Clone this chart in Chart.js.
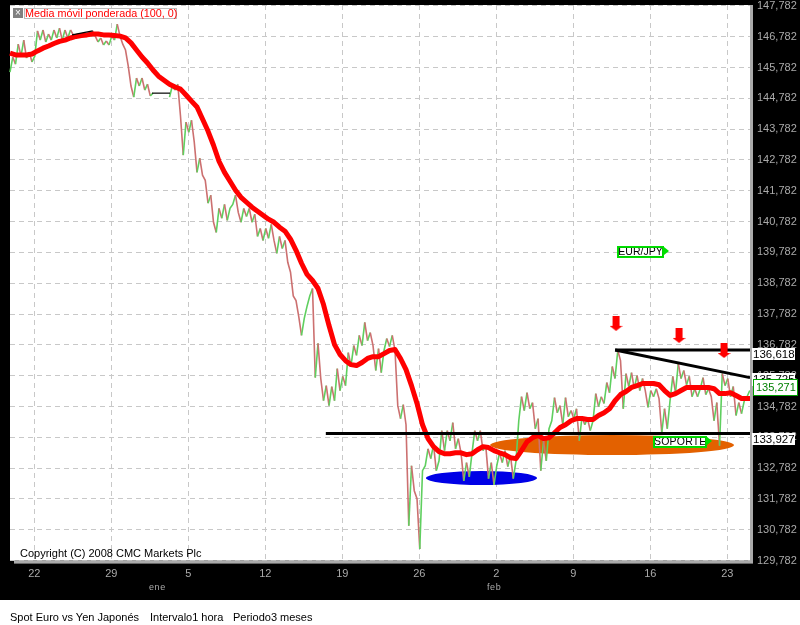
<!DOCTYPE html>
<html>
<head>
<meta charset="utf-8">
<title>Spot Euro vs Yen Japonés</title>
<script src="https://cdn.jsdelivr.net/npm/chart.js@4/dist/chart.umd.js"></script>
<style>
html, body { margin: 0; padding: 0; background: #fff; }
#wrap { position: relative; width: 800px; height: 625px; overflow: hidden; font-family: "Liberation Sans", Arial, sans-serif; }
canvas { position: absolute; left: 0; top: 0; }
.abs { position: absolute; white-space: nowrap; }
.box { position: absolute; background: #fff; color: #000; font-size: 11.5px; line-height: 13px; padding-left: 1px; box-sizing: border-box; }
.tag { position: absolute; background: #fff; color: #000; border: 1px solid #00e000; outline: 1px solid #00d000; outline-offset: -2px; box-sizing: border-box; font-size: 10.5px; line-height: 9px; text-align: center; }
.tag:after { content: ""; position: absolute; top: 0; right: -6px; border-left: 5px solid #00e000; border-top: 4px solid transparent; border-bottom: 4px solid transparent; }
</style>
</head>
<body>
<div id="wrap">
  <canvas id="chart" width="800" height="600"></canvas>

  <div class="abs" style="left:13px;top:8px;width:10px;height:10px;background:#808080;color:#fff;font-size:10px;line-height:10px;text-align:center">×</div>
  <div class="abs" style="left:24px;top:8px;width:153px;height:11px;box-sizing:border-box;border:1px solid #bbb;background:#fff"></div>
  <div class="abs" style="left:25px;top:7px;color:#f00;font-size:10.8px;line-height:13px">Media móvil ponderada (100, 0)</div>
  <div class="abs" style="left:20px;top:546px;color:#000;font-size:11px;line-height:14px">Copyright (C) 2008 CMC Markets Plc</div>

  <div class="tag" style="left:617px;top:246px;width:47px;height:12px">EUR/JPY</div>
  <div class="tag" style="left:653px;top:436px;width:54px;height:12px;letter-spacing:.2px">SOPORTE</div>

  <div class="box" style="left:752px;top:348px;width:43px;height:12px">136,618</div>
  <div class="box" style="left:752px;top:373px;width:43px;height:13px">135,725</div>
  <div class="box" style="left:752px;top:433px;width:43px;height:12px">133,927</div>
  <div class="box" style="left:753px;top:379px;width:45px;height:17px;border:1px solid #00a000;color:#008000;font-size:11px;line-height:15px;padding-left:2px">135,271</div>

  <div class="abs" style="left:149px;top:582px;color:#aaa;font-size:9px;line-height:10px;letter-spacing:.6px">ene</div>
  <div class="abs" style="left:487px;top:582px;color:#aaa;font-size:9px;line-height:10px;letter-spacing:.6px">feb</div>

  <div class="abs" style="left:10px;top:610px;color:#000;font-size:11px;line-height:14px">Spot Euro vs Yen Japonés</div>
  <div class="abs" style="left:150px;top:610px;color:#000;font-size:11px;line-height:14px">Intervalo1 hora</div>
  <div class="abs" style="left:233px;top:610px;color:#000;font-size:11px;line-height:14px">Periodo3 meses</div>
</div>

<script>
// tick labels on the date axis, one per week
const weekTicks = [0, 7, 14, 21, 28, 35, 42, 49, 56, 63];
const weekLabels = ['22', '29', '5', '12', '19', '26', '2', '9', '16', '23'];

const priceTicks = [129.782, 130.782, 131.782, 132.782, 133.782, 134.782, 135.782, 136.782, 137.782,
    138.782, 139.782, 140.782, 141.782, 142.782, 143.782, 144.782, 145.782, 146.782, 147.782];

// spot price, one reading every quarter of a day, null where the market is shut
const priceValues = [
    145.63, 146.12, 145.89, 146.54, 146.15, 146.67, 146.09, 146.28, 145.96, 146.15,
    146.97, 146.67, 147.00, 146.61, 146.87, 146.67, 147.00, 146.74, 147.06, 146.67,
    147.00, 146.74, 147.00, 146.84, null, null, null, null, null, null,
    146.97, 146.80, 146.61, 146.74, 146.51, 146.64, 146.51, 146.80, 146.67, 147.19,
    146.80, 146.54, 146.35, 145.83, 145.18, 144.82, 145.44, 145.18, 145.44, 145.05,
    145.24, 144.86, 144.95, null, null, null, null, null, 144.82, 145.18,
    145.05, 145.24, 144.20, 142.94, 144.01, 143.68, 144.07, 143.36, 142.38, 142.84,
    142.29, 142.12, 141.38, 141.64, 140.76, 140.43, 141.21, 140.89, 141.34, 140.82,
    141.21, 141.34, 141.64, 141.08, 140.76, 141.21, 140.95, 141.21, 140.76, 141.02,
    140.30, 140.56, 140.17, 140.56, 140.24, 140.69, 140.17, 139.75, 140.30, 139.91,
    140.17, 139.46, 139.14, 138.37, 138.22, 137.70, 137.09, 137.64, 138.03, 138.37,
    138.61, 135.72, 136.83, 135.69, 134.97, 135.46, 134.81, 135.43, 134.97, 136.01,
    135.30, 135.76, 135.46, 136.53, 136.11, 136.76, 136.44, 137.09, 136.76, 137.51,
    136.92, 137.18, 136.76, 135.95, 136.66, 135.88, 136.60, 136.99, 136.73, 137.09,
    136.60, 134.81, 134.39, 134.84, 134.19, 130.91, 132.86, 132.05, 131.79, 130.16,
    132.70, 132.86, 133.41, 133.09, 133.54, 132.70, 133.02, 134.00, 133.35, 134.00,
    133.67, 134.26, 133.41, 133.74, 133.28, 132.37, 132.96, 132.50, 133.28, 134.00,
    133.67, 134.00, 133.35, 133.51, 132.44, 132.96, 132.24, 132.86, 133.28, 132.96,
    133.35, 132.83, 133.19, 132.44, 133.02, 134.32, 135.10, 134.65, 135.23, 134.71,
    134.91, 134.06, 134.39, 132.70, 133.67, 133.02, 134.06, 134.32, 135.07, 134.58,
    134.81, 134.19, 135.07, 134.45, 134.65, 134.39, 134.71, 133.67, 134.45, 134.19,
    134.39, 134.00, 134.32, 135.20, 134.78, 135.10, 134.88, 135.56, 135.23, 136.08,
    135.69, 136.60, 136.27, 134.71, 135.85, 135.43, 135.88, 135.36, 135.79, 135.30,
    135.69, 135.30, 134.75, 135.30, 135.10, 135.36, 135.04, 133.93, 134.71, 134.06,
    134.97, 135.76, 135.23, 136.18, 135.69, 135.95, 135.49, 135.76, 135.10, 135.36,
    135.10, 135.36, 135.72, 135.17, 135.36, 135.10, 134.32, 134.91, 133.51, 135.85,
    135.46, 135.69, 135.10, 135.43, 134.49, 134.91, 134.55, 134.97, 135.10, 135.30
];

// weighted moving average (100, 0), one reading every half day
const averageValues = [
    146.25, 146.19, 146.19, 146.19, 146.22, 146.32, 146.41, 146.48, 146.56, 146.63,
    146.67, 146.74, 146.79, 146.82, 146.84, 146.87, 146.87, 146.84, 146.84, 146.82,
    146.80, 146.74, 146.58, 146.35, 146.12, 145.93, 145.70, 145.50, 145.37, 145.24,
    145.15, 145.08, 144.89, 144.69, 144.50, 144.11, 143.72, 143.26, 142.74, 142.38,
    142.09, 141.80, 141.57, 141.41, 141.25, 141.12, 140.99, 140.86, 140.76, 140.60,
    140.47, 140.21, 139.85, 139.43, 139.07, 138.87, 138.61, 138.09, 137.41, 136.79,
    136.47, 136.27, 136.14, 136.11, 136.21, 136.34, 136.40, 136.40, 136.50, 136.60,
    136.63, 136.34, 135.98, 135.46, 134.88, 134.19, 133.74, 133.48, 133.32, 133.25,
    133.25, 133.28, 133.28, 133.22, 133.25, 133.38, 133.48, 133.45, 133.35, 133.28,
    133.22, 133.12, 133.09, 133.35, 133.64, 133.77, 133.84, 133.74, 133.77, 133.93,
    134.10, 134.19, 134.32, 134.39, 134.39, 134.36, 134.36, 134.49, 134.58, 134.71,
    134.97, 135.17, 135.27, 135.40, 135.46, 135.53, 135.53, 135.53, 135.49, 135.30,
    135.14, 135.20, 135.30, 135.40, 135.40, 135.40, 135.40, 135.40, 135.36, 135.20,
    135.20, 135.23, 135.14, 135.04, 135.04, 135.04
];

const firstDay = -2.21;
const lastDay = 65.06;

// the black drawn lines, as [day, price] ends
const resistanceFlat = [[52.8, 136.618], [lastDay, 136.618]];
const resistanceSlope = [[52.8, 136.618], [lastDay, 135.72]];
const supportLine = [[26.5, 133.91], [lastDay, 133.91]];
const closedJan = [[3.43, 146.84], [5.31, 146.97]];
const closedNew = [[10.7, 144.95], [12.34, 144.95]];

const arrowDays = [52.88, 58.61, 62.7];
const arrowPrices = [137.48, 137.09, 136.6];

// shaded zones: centre and half size in days and price
const blueZone = [40.65, 132.46, 5.05, 0.227];
const orangeZone = [52.52, 133.53, 11.09, 0.325];

function toPoints(pairs) {
    return pairs.map(p => ({ x: p[0], y: p[1] }));
}

function makeArrow() {
    const c = document.createElement('canvas');
    c.width = 13;
    c.height = 15;
    const g = c.getContext('2d');
    g.fillStyle = '#f00';
    g.fillRect(3, 0, 7, 10);
    g.beginPath();
    g.moveTo(0, 10);
    g.lineTo(13, 10);
    g.lineTo(6.5, 15);
    g.closePath();
    g.fill();
    return c;
}

function blackLine(pairs, width) {
    return {
        type: 'line',
        data: toPoints(pairs),
        borderColor: '#000',
        borderWidth: width,
        pointRadius: 0,
        order: 2
    };
}

const framePlugin = {
    id: 'frame',
    beforeDraw(chart) {
        const g = chart.ctx;
        const a = chart.chartArea;
        g.save();
        g.fillStyle = '#000';
        g.fillRect(0, 0, chart.width, chart.height);
        g.fillStyle = '#fff';
        g.fillRect(a.left, a.top, a.right - a.left, a.bottom - a.top);
        g.restore();
    },
    beforeDatasetsDraw(chart) {
        const g = chart.ctx;
        const x = chart.scales.x;
        const y = chart.scales.y;
        g.save();
        [[blueZone, '#0000e6'], [orangeZone, '#e36100']].forEach(z => {
            const d = z[0];
            const cx = x.getPixelForValue(d[0]);
            const cy = y.getPixelForValue(d[1]);
            const rx = x.getPixelForValue(d[0] + d[2]) - cx;
            const ry = y.getPixelForValue(d[1] - d[3]) - cy;
            g.fillStyle = z[1];
            g.beginPath();
            g.ellipse(cx, cy, rx, ry, 0, 0, Math.PI * 2);
            g.fill();
        });
        g.restore();
    },
    afterDraw(chart) {
        const g = chart.ctx;
        const a = chart.chartArea;
        g.save();
        g.fillStyle = '#aaa';
        g.fillRect(a.right, a.top, 3, a.bottom - a.top + 3);
        g.fillRect(a.left + 4, a.bottom, a.right - a.left - 4, 3);
        g.restore();
    }
};

new Chart(document.getElementById('chart'), {
    type: 'line',
    data: {
        datasets: [
            {
                data: priceValues.map((v, i) => ({ x: firstDay + i * 0.25, y: v })),
                borderWidth: 1.6,
                pointRadius: 0,
                spanGaps: false,
                order: 4,
                segment: {
                    borderColor: ctx => ctx.p1.parsed.y >= ctx.p0.parsed.y ? '#5fcf5f' : '#cc7070'
                }
            },
            blackLine(closedJan, 1.2),
            blackLine(closedNew, 1.2),
            {
                data: averageValues.map((v, i) => ({ x: firstDay + i * 0.5, y: v })),
                borderColor: '#ff0000',
                borderWidth: 5,
                pointRadius: 0,
                borderJoinStyle: 'round',
                order: 3
            },
            blackLine(resistanceFlat, 3),
            blackLine(resistanceSlope, 3),
            blackLine(supportLine, 3),
            {
                data: arrowDays.map((d, i) => ({ x: d, y: arrowPrices[i] })),
                showLine: false,
                pointStyle: makeArrow(),
                order: 1
            }
        ]
    },
    options: {
        responsive: false,
        animation: false,
        clip: false,
        layout: { padding: { left: 10, top: 5, right: 0, bottom: 0 } },
        plugins: { legend: { display: false }, title: { display: false }, tooltip: { enabled: false } },
        scales: {
            x: {
                type: 'linear',
                min: firstDay,
                max: lastDay,
                afterBuildTicks: axis => { axis.ticks = weekTicks.map(v => ({ value: v })); },
                afterFit: axis => { axis.height = 39.4; axis.paddingLeft = 0; axis.paddingRight = 0; },
                grid: { color: '#c8c8c8', drawTicks: false },
                border: { display: false, dash: [5, 4] },
                ticks: {
                    color: '#aaaaaa',
                    font: { family: '"Liberation Sans"', size: 11 },
                    padding: 7,
                    maxRotation: 0,
                    autoSkip: false,
                    callback: v => weekLabels[weekTicks.indexOf(v)]
                }
            },
            y: {
                type: 'linear',
                position: 'right',
                min: 129.782,
                max: 147.81,
                afterBuildTicks: axis => { axis.ticks = priceTicks.map(v => ({ value: v })); },
                afterFit: axis => { axis.width = 50; axis.paddingTop = 0; axis.paddingBottom = 0; },
                grid: { color: '#c8c8c8', drawTicks: false },
                border: { display: false, dash: [5, 4] },
                ticks: {
                    color: '#aaaaaa',
                    font: { family: '"Liberation Sans"', size: 11 },
                    padding: 7,
                    autoSkip: false,
                    callback: v => v.toFixed(3).replace('.', ',')
                }
            }
        }
    },
    plugins: [framePlugin]
});
</script>
</body>
</html>
